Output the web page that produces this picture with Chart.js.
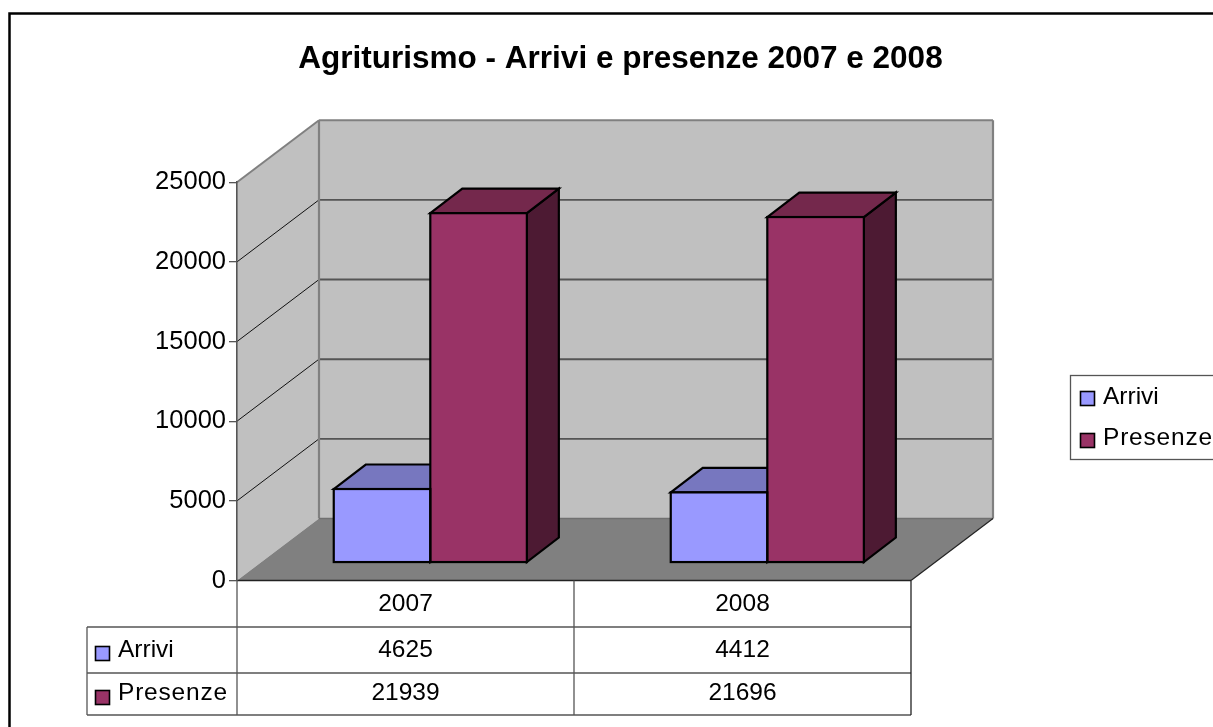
<!DOCTYPE html>
<html><head><meta charset="utf-8">
<style>html,body{margin:0;padding:0;background:#fff}#w{position:relative;width:1213px;height:727px}</style>
<script src="https://cdn.jsdelivr.net/npm/chart.js@4"></script></head>
<body><div id="w"><canvas id="c" width="1213" height="727"></canvas></div>
<script>
const titleText = 'Agriturismo - Arrivi e presenze 2007 e 2008';
const categories = ['2007', '2008'];
const arrivi = [4625, 4412];
const presenze = [21939, 21696];
const yTicks = [0, 5000, 10000, 15000, 20000, 25000];
const FONT = '"Liberation Sans", Arial, sans-serif';
const FS = 24.5;
const colors = {
  arrivi: {front: '#9999ff', top: '#7777bf', side: '#4c4c80'},
  presenze: {front: '#993366', top: '#74284c', side: '#4d1a33'}
};
const wallDepth = {x: 82, y: -62};
const barShift = {x: 24.8, y: -17.8};
const barDepth = {x: 32, y: -24.5};

function poly(ctx, pts, fill, stroke, lw) {
  ctx.beginPath();
  pts.forEach((p, i) => i ? ctx.lineTo(p[0], p[1]) : ctx.moveTo(p[0], p[1]));
  ctx.closePath();
  if (fill) { ctx.fillStyle = fill; ctx.fill(); }
  if (stroke) { ctx.strokeStyle = stroke; ctx.lineWidth = lw; ctx.lineJoin = 'miter'; ctx.stroke(); }
}
function line(ctx, x1, y1, x2, y2, c, w) {
  ctx.beginPath(); ctx.moveTo(x1, y1); ctx.lineTo(x2, y2);
  ctx.strokeStyle = c; ctx.lineWidth = w; ctx.stroke();
}
function swatch(ctx, x, y, fill) {
  ctx.fillStyle = fill; ctx.fillRect(x, y, 14, 14);
  ctx.strokeStyle = '#000'; ctx.lineWidth = 1.6; ctx.strokeRect(x, y, 14, 14);
}

const scene = {
  id: 'scene',
  beforeDraw(chart) {
    const {ctx, chartArea: a, scales} = chart, y = scales.y;
    const dx = wallDepth.x, dy = wallDepth.y;
    ctx.save();
    // outer frame
    ctx.strokeStyle = '#000'; ctx.lineWidth = 2.5;
    ctx.strokeRect(9.5, 13.5, 1300, 800);
    // walls and floor
    poly(ctx, [[a.left, a.top], [a.left + dx, a.top + dy], [a.left + dx, a.bottom + dy], [a.left, a.bottom]], '#c0c0c0');
    poly(ctx, [[a.left + dx, a.top + dy], [a.right + dx, a.top + dy], [a.right + dx, a.bottom + dy], [a.left + dx, a.bottom + dy]], '#c0c0c0');
    poly(ctx, [[a.left, a.bottom], [a.left + dx, a.bottom + dy], [a.right + dx, a.bottom + dy], [a.right, a.bottom]], '#808080');
    yTicks.forEach(v => {
      if (v === 0 || v === 25000) return;
      const p = y.getPixelForValue(v);
      line(ctx, a.left, p, a.left + dx, p + dy, '#111', 1);
      line(ctx, a.left + dx, p + dy, a.right + dx, p + dy, '#555', 1.9);
    });
    // wall edges
    line(ctx, a.left, a.top, a.left + dx, a.top + dy, '#808080', 2);
    line(ctx, a.left + dx, a.top + dy, a.right + dx, a.top + dy, '#808080', 2);
    line(ctx, a.left + dx, a.top + dy, a.left + dx, a.bottom + dy, '#808080', 2.2);
    line(ctx, a.right + dx, a.top + dy, a.right + dx, a.bottom + dy, '#808080', 2.2);
    line(ctx, a.left + dx, a.bottom + dy, a.right + dx, a.bottom + dy, '#707070', 1.4);
    line(ctx, a.right, a.bottom, a.right + dx, a.bottom + dy, '#222', 1.2);
    line(ctx, a.left, a.bottom, a.right, a.bottom, '#222', 1.4);
    ctx.restore();
  },
  beforeDatasetsDraw(chart) {
    const {ctx} = chart;
    ctx.save();
    ctx.translate(barShift.x, barShift.y);
    const px = barDepth.x, py = barDepth.y;
    chart.data.datasets.forEach((d, di) => {
      chart.getDatasetMeta(di).data.forEach(b => {
        const l = b.x - b.width / 2, r = b.x + b.width / 2, t = b.y, bt = b.base;
        poly(ctx, [[r, t], [r + px, t + py], [r + px, bt + py], [r, bt]], d.sideColor, '#000', 2.2);
        poly(ctx, [[l, t], [l + px, t + py], [r + px, t + py], [r, t]], d.topColor, '#000', 2.2);
      });
    });
  },
  afterDatasetsDraw(chart) {
    const {ctx} = chart;
    chart.data.datasets.forEach((d, di) => {
      chart.getDatasetMeta(di).data.forEach(b => {
        const l = b.x - b.width / 2;
        ctx.strokeStyle = '#000'; ctx.lineWidth = 2.2;
        ctx.strokeRect(l, b.y, b.width, b.base - b.y);
      });
    });
    ctx.restore();
  },
  afterDraw(chart) {
    const {ctx, chartArea: a, scales} = chart, x = scales.x;
    const tl = 87, c1 = a.left, rows = [627, 673, 715];
    const mid = (x.getPixelForValue(0) + x.getPixelForValue(1)) / 2;
    ctx.save();
    // data table
    rows.forEach(r => line(ctx, tl, r, a.right, r, '#555', 1.3));
    line(ctx, tl, rows[0], tl, rows[2], '#555', 1.3);
    line(ctx, c1, a.bottom, c1, rows[2], '#555', 1.3);
    line(ctx, mid, a.bottom, mid, rows[2], '#555', 1.3);
    line(ctx, a.right, a.bottom, a.right, rows[2], '#222', 1.3);
    ctx.font = FS + 'px ' + FONT; ctx.textBaseline = 'middle'; ctx.fillStyle = '#000';
    const ys = [650, 693];
    chart.data.datasets.forEach((d, di) => {
      swatch(ctx, 95.5, di ? 690.5 : 646.5, d.backgroundColor);
      ctx.fillStyle = '#000'; ctx.textAlign = 'left';
      ctx.letterSpacing = di ? '0.8px' : '0px';
      ctx.fillText(d.label, 118, ys[di]);
      ctx.letterSpacing = '0px';
      ctx.textAlign = 'center';
      d.data.forEach((v, i) => ctx.fillText(String(v), x.getPixelForValue(i), ys[di]));
    });
    // legend
    ctx.fillStyle = '#fff'; ctx.fillRect(1070.5, 375.5, 160, 84);
    ctx.strokeStyle = '#555'; ctx.lineWidth = 1.3; ctx.strokeRect(1070.5, 375.5, 160, 84);
    chart.data.datasets.forEach((d, di) => {
      swatch(ctx, 1080.5, di ? 433.5 : 391.5, d.backgroundColor);
      ctx.fillStyle = '#000'; ctx.textAlign = 'left';
      ctx.letterSpacing = di ? '0.8px' : '0px';
      ctx.fillText(d.label, 1103, di ? 438 : 397);
      ctx.letterSpacing = '0px';
    });
    ctx.restore();
  }
};

new Chart(document.getElementById('c'), {
  type: 'bar',
  data: {
    labels: categories,
    datasets: [
      {label: 'Arrivi', data: arrivi, backgroundColor: colors.arrivi.front, topColor: colors.arrivi.top, sideColor: colors.arrivi.side},
      {label: 'Presenze', data: presenze, backgroundColor: colors.presenze.front, topColor: colors.presenze.top, sideColor: colors.presenze.side}
    ].map(d => Object.assign(d, {borderWidth: 0, clip: false}))
  },
  plugins: [scene],
  options: {
    responsive: false,
    animation: false,
    devicePixelRatio: 1,
    layout: {padding: {left: 28, right: 0, top: 0, bottom: 0}},
    datasets: {bar: {categoryPercentage: 0.573, barPercentage: 1}},
    plugins: {
      legend: {display: false},
      tooltip: {enabled: false},
      title: {
        display: true, text: titleText, color: '#000',
        font: {family: FONT, size: 31.5, weight: 'bold', lineHeight: 1.2},
        padding: {top: 40, bottom: 104.4}
      }
    },
    scales: {
      x: {
        grid: {display: false}, border: {display: false},
        ticks: {color: '#000', padding: 1, maxRotation: 0, font: {family: FONT, size: FS}},
        afterFit(s) { s.height = 146.5; }
      },
      y: {
        min: 0, max: 25000,
        grid: {drawOnChartArea: false, drawTicks: true, tickLength: 8, color: '#555', lineWidth: 1.3},
        border: {display: true, color: '#555', width: 1.6},
        ticks: {stepSize: 5000, color: '#000', padding: 3, font: {family: FONT, size: 25.5}, callback: v => String(v)},
        afterFit(s) { s.width = 209; }
      },
      gap: {
        position: 'right', display: true,
        grid: {display: false}, border: {display: false},
        ticks: {display: false},
        afterFit(s) { s.width = 302; }
      }
    }
  }
});
</script></body></html>
